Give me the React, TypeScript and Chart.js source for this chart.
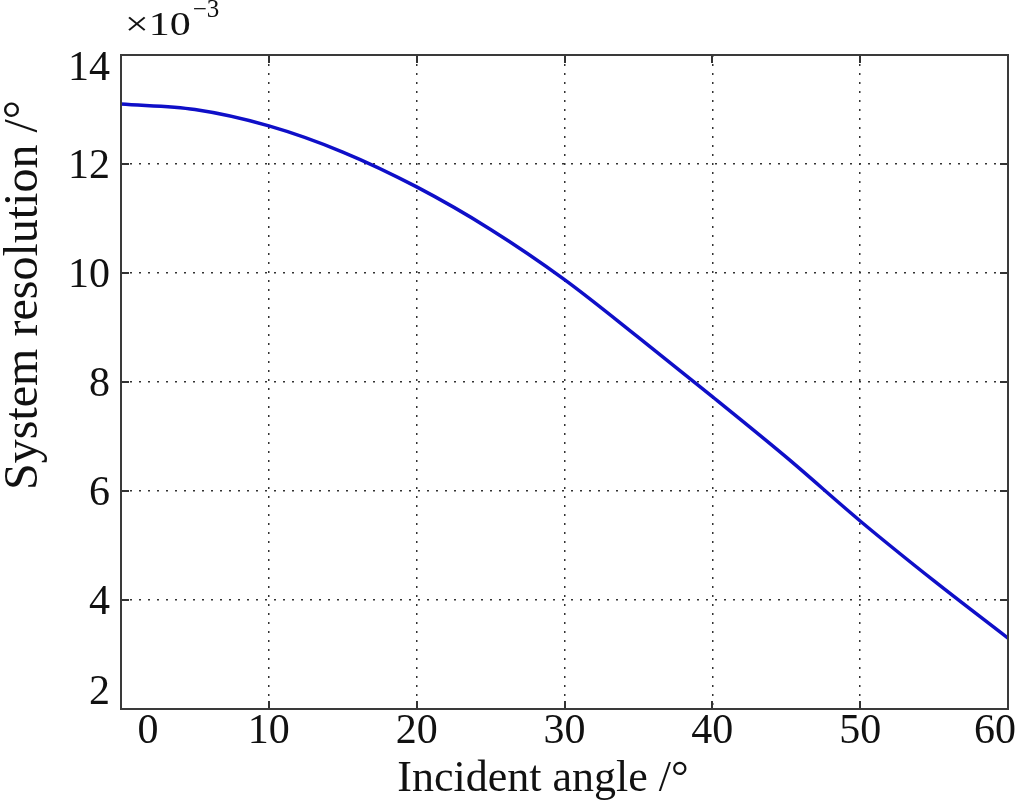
import { useEffect, useRef } from "react";
import { Chart, registerables } from "chart.js";

Chart.register(...registerables);

// ---- data ----
const incidentAngles = [0, 5, 10, 15, 20, 25, 30, 35, 40, 45, 50, 55, 60];
const resolutionValues = [13.1, 13.0, 12.7, 12.22, 11.58, 10.8, 9.88, 8.82, 7.73, 6.62, 5.45, 4.35, 3.3];
const xTicks = [0, 10, 20, 30, 40, 50, 60];
const yTicks = [2, 4, 6, 8, 10, 12, 14];
const xTitle = "Incident angle /°";
const yTitle = "System resolution /°";
const multiplierBase = "×10";
const multiplierExp = "−3";

const FONT = '"Liberation Serif", "Times New Roman", serif';

const decorPlugin = {
  id: "decor",
  afterDraw(chart: any) {
    const ctx = chart.ctx as CanvasRenderingContext2D;
    const { left, right, top, bottom } = chart.chartArea;
    const xs = chart.scales.x;
    const ys = chart.scales.y;
    ctx.save();

    // inward tick marks
    ctx.strokeStyle = "#333";
    ctx.lineWidth = 2;
    ctx.setLineDash([]);
    const tl = 8;
    xTicks.forEach((t) => {
      const px = Math.round(xs.getPixelForValue(t));
      ctx.beginPath();
      ctx.moveTo(px, bottom);
      ctx.lineTo(px, bottom - tl);
      ctx.moveTo(px, top);
      ctx.lineTo(px, top + tl);
      ctx.stroke();
    });
    yTicks.forEach((t) => {
      const py = Math.round(ys.getPixelForValue(t));
      ctx.beginPath();
      ctx.moveTo(left, py);
      ctx.lineTo(left + tl, py);
      ctx.moveTo(right, py);
      ctx.lineTo(right - tl, py);
      ctx.stroke();
    });

    // box
    ctx.lineWidth = 2;
    ctx.strokeStyle = "#3a3a3a";
    ctx.strokeRect(left, top, right - left, bottom - top);

    // tick labels
    ctx.fillStyle = "#111";
    ctx.font = `42px ${FONT}`;
    ctx.textBaseline = "alphabetic";
    ctx.textAlign = "center";
    xTicks.forEach((t, i) => {
      let px = xs.getPixelForValue(t);
      if (i === 0) px += 27;
      if (i === xTicks.length - 1) px -= 13;
      ctx.fillText(String(t), px, 743);
    });
    ctx.textAlign = "right";
    yTicks.forEach((t, i) => {
      let py = ys.getPixelForValue(t);
      if (i === 0) py -= 19;
      if (i === yTicks.length - 1) py += 11;
      ctx.fillText(String(t), 110, py + 14);
    });

    // axis titles
    ctx.font = `44px ${FONT}`;
    ctx.textAlign = "center";
    ctx.fillText(xTitle, 543, 791);
    ctx.save();
    ctx.translate(37, 295);
    ctx.rotate(-Math.PI / 2);
    ctx.font = `48px ${FONT}`;
    ctx.fillText(yTitle, 0, 0);
    ctx.restore();

    // exponent multiplier
    ctx.textAlign = "left";
    ctx.save();
    ctx.translate(125, 35);
    ctx.scale(1, 0.82);
    ctx.font = `42px ${FONT}`;
    ctx.fillText(multiplierBase, 0, 0);
    const w = ctx.measureText(multiplierBase).width;
    ctx.restore();
    ctx.font = `25px ${FONT}`;
    ctx.fillText(multiplierExp, 125 + w + 2, 17);

    ctx.restore();
  },
};

export default function App() {
  const ref = useRef<HTMLCanvasElement>(null);

  useEffect(() => {
    if (!ref.current) return;
    const chart = new Chart(ref.current, {
      type: "line",
      data: {
        datasets: [
          {
            data: incidentAngles.map((a, i) => ({ x: a, y: resolutionValues[i] })),
            borderColor: "#0f0fc8",
            borderWidth: 3.5,
            pointRadius: 0,
            cubicInterpolationMode: "monotone",
            fill: false,
          },
        ],
      },
      options: {
        animation: false,
        responsive: false,
        layout: { padding: { top: 55, right: 16, left: 0, bottom: 0 } },
        plugins: { legend: { display: false }, tooltip: { enabled: false } },
        scales: {
          x: {
            type: "linear",
            min: 0,
            max: 60,
            ticks: { stepSize: 10, display: false },
            grid: { color: "#333", lineWidth: 1.5, drawTicks: false },
            border: { display: false, dash: [2, 7] },
            afterFit: (s: any) => {
              s.height = 95;
            },
          },
          y: {
            type: "linear",
            min: 2,
            max: 14,
            ticks: { stepSize: 2, display: false },
            grid: { color: "#333", lineWidth: 1.5, drawTicks: false },
            border: { display: false, dash: [2, 7] },
            afterFit: (s: any) => {
              s.width = 121;
            },
          },
        },
      },
      plugins: [decorPlugin],
    });
    return () => chart.destroy();
  }, []);

  return (
    <div style={{ position: "absolute", left: 0, top: 0, width: 1024, height: 804, background: "#fff" }}>
      <canvas ref={ref} width={1024} height={804} style={{ display: "block" }} />
    </div>
  );
}
